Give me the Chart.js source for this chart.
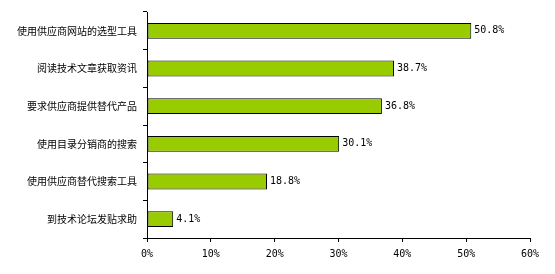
<!DOCTYPE html>
<html>
<head>
<meta charset="utf-8">
<style>
  html, body { margin:0; padding:0; background:#fff; }
  #wrap { width:555px; height:274px; }
</style>
</head>
<body>
<div id="wrap"><canvas id="chart" width="555" height="274"></canvas></div>
<script src="https://cdn.jsdelivr.net/npm/chart.js@4.4.0/dist/chart.umd.min.js"></script>
<script>
const categories = [
  '使用供应商网站的选型工具',
  '阅读技术文章获取资讯',
  '要求供应商提供替代产品',
  '使用目录分销商的搜索',
  '使用供应商替代搜索工具',
  '到技术论坛发贴求助'
];
const values = [50.8, 38.7, 36.8, 30.1, 18.8, 4.1];
const xTicks = [0, 10, 20, 30, 40, 50, 60];

const valueLabels = {
  id: 'valueLabels',
  afterDatasetsDraw(chart) {
    const ctx = chart.ctx;
    const meta = chart.getDatasetMeta(0);
    ctx.save();
    ctx.font = '10px "DejaVu Sans Mono", monospace';
    ctx.fillStyle = '#000';
    ctx.textBaseline = 'middle';
    ctx.textAlign = 'left';
    meta.data.forEach((bar, i) => {
      ctx.fillText(values[i].toFixed(1) + '%', bar.x + 3, bar.y);
    });
    ctx.restore();
  }
};

new Chart(document.getElementById('chart'), {
  type: 'bar',
  data: {
    labels: categories,
    datasets: [{
      data: values,
      backgroundColor: '#99CC00',
      borderColor: '#000',
      borderWidth: 1,
      borderSkipped: false,
      categoryPercentage: 1,
      barPercentage: 0.42
    }]
  },
  options: {
    indexAxis: 'y',
    responsive: false,
    animation: false,
    layout: { padding: { top: 12, right: 25, left: 0, bottom: 0 } },
    plugins: { legend: { display: false }, tooltip: { enabled: false } },
    scales: {
      x: {
        min: 0, max: 60,
        afterBuildTicks: axis => { axis.ticks = xTicks.map(v => ({ value: v })); },
        afterFit: axis => { axis.height = 36; },
        border: { display: true, color: '#000', width: 1 },
        grid: { display: true, drawOnChartArea: false, drawTicks: true, tickLength: 4, color: '#000' },
        ticks: {
          callback: v => v + '%',
          color: '#000',
          padding: 6,
          maxRotation: 0,
          font: { family: '"DejaVu Sans Mono", monospace', size: 10 }
        }
      },
      y: {
        afterFit: axis => { axis.width = 147; },
        border: { display: true, color: '#000', width: 1 },
        grid: { display: true, drawOnChartArea: false, drawTicks: true, tickLength: 4, color: '#000', offset: true },
        ticks: {
          color: '#000',
          padding: 6,
          font: { family: '"Noto Sans CJK SC", sans-serif', size: 10 }
        }
      }
    }
  },
  plugins: [valueLabels]
});
</script>
</body>
</html>
